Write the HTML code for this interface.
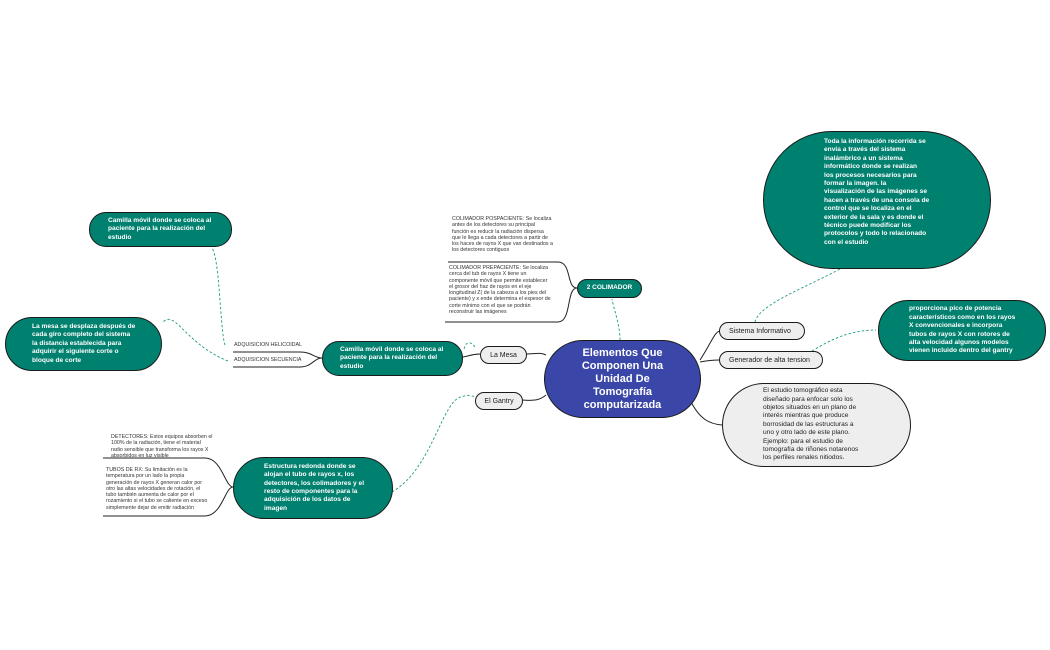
<!DOCTYPE html>
<html><head><meta charset="utf-8"><style>
body{margin:0;width:1050px;height:650px;background:#fff;position:relative;overflow:hidden;font-family:"Liberation Sans",sans-serif}
.n{position:absolute;box-sizing:border-box;border:1.5px solid #1a1a1a;display:flex;align-items:center}
.t{background:#00806e;color:#fff;font-weight:bold;font-size:6.6px;line-height:8.4px}
.g{background:#eeeeee;color:#222;font-size:7px}
.s{position:absolute;font-size:5.3px;line-height:6.3px;color:#333}
svg{position:absolute;left:0;top:0}
</style></head><body>
<svg width="1050" height="650">
<g fill="none" stroke="#222" stroke-width="1">
<path d="M700,360 C710,345 715,331 720,331"/>
<path d="M700,362 C710,360 715,360 720,360"/>
<path d="M690,400 C700,420 710,424 722,425"/>
<path d="M546,355 C540,352 535,354 526,354"/>
<path d="M546,395 C540,400 535,401 522,400"/>
<path d="M462,357 C468,357 470,354 480,354"/>
<path d="M322,358 C314,358 312,352 300,352 L233,352"/>
<path d="M322,358 C314,358 312,367 300,367 L233,367"/>
<path d="M577,288 C566,288 572,262 558,262 L448,262"/>
<path d="M577,288 C566,288 572,322 558,322 L445,322"/>
<path d="M233,487 C225,487 222,458 205,458 L103,458"/>
<path d="M233,487 C225,487 222,516 205,516 L103,516"/>
</g>
<g fill="none" stroke="#1a9a85" stroke-width="0.9" stroke-dasharray="2.5,2">
<path d="M620,340 C620,325 614,310 612,299"/>
<path d="M755,322 C760,300 830,280 868,252"/>
<path d="M812,351 C830,340 850,330 876,330"/>
<path d="M475,347 C470,340 465,342 464,350"/>
<path d="M392,492 C430,470 440,410 458,398 C465,395 470,395 476,397"/>
<path d="M225,345 C220,330 220,260 212,248"/>
<path d="M228,361 C200,350 185,330 175,322 C168,317 165,320 162,323"/>
</g>
</svg>
<div class="n" style="left:544px;top:340px;width:157px;height:78px;border-radius:39px;background:#3a47a8;color:#fff;font-weight:bold;font-size:11px;line-height:13px;justify-content:center;text-align:center">Elementos Que<br>Componen Una<br>Unidad De<br>Tomografía<br>computarizada</div>
<div class="n t" style="left:577px;top:279px;width:65px;height:19px;border-radius:10px;justify-content:center;font-size:6.5px">2 COLIMADOR</div>
<div class="n g" style="left:719px;top:322px;width:86px;height:18px;border-radius:9px;padding-left:9px">Sistema Informativo</div>
<div class="n g" style="left:719px;top:351px;width:104px;height:18px;border-radius:9px;padding-left:9px">Generador de alta tension</div>
<div class="n g" style="left:722px;top:383px;width:189px;height:84px;border-radius:42px;padding-left:40px;font-size:6.6px;line-height:8.4px">El estudio tomográfico esta<br>diseñado para enfocar solo los<br>objetos situados en un plano de<br>interés mientras que produce<br>borrosidad de las estructuras a<br>uno y otro lado de este plano.<br>Ejemplo: para el estudio de<br>tomografía de riñones notarenos<br>los perfiles renales nitiodos.</div>
<div class="n t" style="left:763px;top:131px;width:228px;height:138px;border-radius:69px;padding-left:60px;align-items:flex-start;padding-top:6px">Toda la información recorrida se<br>envía a través del sistema<br>inalámbrico a un sistema<br>informático donde se realizan<br>los procesos necesarios para<br>formar la imagen. la<br>visualización de las imágenes se<br>hacen a través de una consola de<br>control que se localiza en el<br>exterior de la sala y es donde el<br>técnico puede modificar los<br>protocolos y todo lo relacionado<br>con el estudio</div>
<div class="n t" style="left:878px;top:300px;width:168px;height:61px;border-radius:30px;padding-left:30px">proporciona pico de potencia<br>característicos como en los rayos<br>X convencionales e incorpora<br>tubos de rayos X con rotores de<br>alta velocidad algunos modelos<br>vienen incluido dentro del gantry</div>
<div class="n g" style="left:480px;top:346px;width:47px;height:18px;border-radius:9px;justify-content:center">La Mesa</div>
<div class="n g" style="left:475px;top:392px;width:48px;height:18px;border-radius:9px;justify-content:center">El Gantry</div>
<div class="n t" style="left:322px;top:341px;width:141px;height:35px;border-radius:17px;padding-left:17px">Camilla móvil donde se coloca al<br>paciente para la realización del<br>estudio</div>
<div class="n t" style="left:89px;top:212px;width:143px;height:35px;border-radius:17px;padding-left:18px">Camilla móvil donde se coloca al<br>paciente para la realización del<br>estudio</div>
<div class="n t" style="left:5px;top:317px;width:157px;height:54px;border-radius:27px;padding-left:26px">La mesa se desplaza después de<br>cada giro completo del sistema<br>la distancia establecida para<br>adquirir el siguiente corte o<br>bloque de corte</div>
<div class="n t" style="left:233px;top:457px;width:160px;height:62px;border-radius:31px;padding-left:30px">Estructura redonda donde se<br>alojan el tubo de rayos x, los<br>detectores, los colimadores y el<br>resto de componentes para la<br>adquisición de los datos de<br>imagen</div>
<div class="s" style="left:234px;top:342px">ADQUISICION HELICOIDAL</div>
<div class="s" style="left:234px;top:357px">ADQUISICION SECUENCIA</div>
<div class="s" style="left:452px;top:216px">COLIMADOR POSPACIENTE: Se localiza<br>antes de los detectores su principal<br>función es reducir la radiación dispersa<br>que le llega a cada detectores a partir de<br>los haces de rayos X que van destinados a<br>los detectores contiguos</div>
<div class="s" style="left:449px;top:265px">COLIMADOR PREPACIENTE: Se localiza<br>cerca del tub de rayos X tiene un<br>componente móvil que permite establecer<br>el grosor del haz de rayos en el eje<br>longitudinal Z( de la cabeza a los pies del<br>paciente) y x ende determina el espesor de<br>corte mínimo con el que se podrán<br>reconstruir las imágenes</div>
<div class="s" style="left:111px;top:434px">DETECTORES: Estos equipos absorben el<br>100% de la radiación, tiene el material<br>radio sensible que transforma los rayos X<br>absorbidos en luz visible</div>
<div class="s" style="left:106px;top:467px">TUBOS DE RX: Su limitación es la<br>temperatura por un lado la propia<br>generación de rayos X generan calor por<br>otro las altas velocidades de rotación, el<br>tubo también aumenta de calor por el<br>rozamiento si el tubo se caliente en exceso<br>simplemente dejar de emitir radiación</div>
</body></html>
